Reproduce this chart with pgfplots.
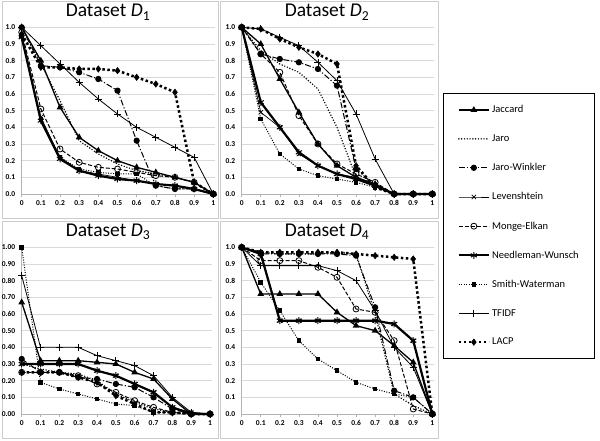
\documentclass[border=0pt]{standalone}
\usepackage{pgfplots}
\pgfplotsset{compat=1.18}
\usepackage{pgfplotstable}
\usepackage{fontspec}
\setmainfont{Carlito}

\pgfplotstableread{
x    jac  jaro jw   lev  me   nw   sw   tf   lacp
0    1.00 1.00 1.00 0.95 0.97 0.94 0.95 1.00 0.96
0.1  0.80 0.78 0.77 0.46 0.51 0.44 0.45 0.89 0.76
0.2  0.52 0.56 0.76 0.22 0.27 0.21 0.22 0.78 0.76
0.3  0.34 0.32 0.73 0.14 0.19 0.14 0.15 0.67 0.75
0.4  0.26 0.24 0.69 0.12 0.16 0.11 0.13 0.57 0.75
0.5  0.20 0.18 0.62 0.10 0.15 0.09 0.12 0.48 0.74
0.6  0.16 0.14 0.32 0.08 0.13 0.08 0.12 0.40 0.70
0.7  0.13 0.12 0.05 0.06 0.11 0.06 0.05 0.34 0.66
0.8  0.10 0.10 0.03 0.05 0.10 0.05 0.03 0.28 0.61
0.9  0.07 0.07 0.03 0.03 0.07 0.03 0.03 0.22 0.07
1    0    0    0    0    0    0    0    0    0
}\dA
\pgfplotstableread{
x    jac  jaro jw   lev  me   nw   sw   tf   lacp
0    1    1    1    1    1    1    1    1    1
0.1  0.90 0.86 0.84 0.49 0.84 0.55 0.45 0.99 0.99
0.2  0.69 0.78 0.81 0.40 0.73 0.40 0.24 0.94 0.93
0.3  0.49 0.73 0.79 0.24 0.47 0.25 0.15 0.89 0.88
0.4  0.30 0.63 0.75 0.17 0.30 0.17 0.11 0.79 0.84
0.5  0.17 0.40 0.65 0.12 0.18 0.12 0.09 0.68 0.78
0.6  0.10 0.10 0.15 0.10 0.12 0.09 0.07 0.48 0.17
0.7  0.06 0.05 0.05 0.05 0.07 0.05 0.04 0.21 0.04
0.8  0    0    0    0    0    0    0    0    0
0.9  0    0    0    0    0    0    0    0    0
1    0    0    0    0    0    0    0    0    0
}\dB
\pgfplotstableread{
x    jac  jaro jw   lev  me   nw   sw   tf   lacp
0    0.67 0.30 0.33 0.30 0.25 0.30 1.00 0.83 0.25
0.1  0.32 0.27 0.25 0.30 0.25 0.30 0.19 0.40 0.25
0.2  0.32 0.25 0.25 0.30 0.25 0.30 0.15 0.40 0.25
0.3  0.32 0.24 0.22 0.30 0.23 0.30 0.12 0.40 0.22
0.4  0.31 0.20 0.21 0.26 0.18 0.26 0.09 0.35 0.19
0.5  0.30 0.12 0.18 0.23 0.13 0.23 0.06 0.32 0.11
0.6  0.25 0.07 0.16 0.18 0.08 0.18 0.05 0.29 0.06
0.7  0.21 0.03 0.10 0.13 0.04 0.13 0.01 0.23 0.01
0.8  0.09 0.01 0.03 0.04 0.01 0.04 0.01 0.10 0.01
0.9  0.00 0.00 0.00 0.01 0.00 0.00 0.00 0.01 0.00
1    0    0    0    0    0    0    0    0    0
}\dC
\pgfplotstableread{
x    jac  jaro jw   lev  me   nw   sw   tf   lacp
0    1    1    1    1    1    1    1    1    1
0.1  0.72 0.97 0.96 0.97 0.92 0.96 0.79 0.89 0.97
0.2  0.72 0.96 0.96 0.56 0.92 0.56 0.62 0.89 0.97
0.3  0.72 0.96 0.96 0.56 0.92 0.56 0.44 0.89 0.97
0.4  0.72 0.96 0.96 0.56 0.88 0.56 0.33 0.89 0.97
0.5  0.61 0.97 0.96 0.56 0.82 0.56 0.26 0.86 0.97
0.6  0.53 0.96 0.95 0.56 0.63 0.56 0.19 0.80 0.96
0.7  0.50 0.60 0.64 0.56 0.61 0.56 0.15 0.62 0.95
0.8  0.41 0.12 0.14 0.54 0.44 0.54 0.12 0.40 0.94
0.9  0.31 0.05 0.10 0.44 0.03 0.44 0.10 0.28 0.93
1    0    0    0    0    0    0    0    0    0
}\dD

\pgfplotsset{
  sjac/.style={black, solid, line width=1.3pt, mark=triangle*, mark size=2.6pt, mark options={solid}},
  sjaro/.style={black, line width=1.6pt, line cap=round, dash pattern=on 0pt off 2.8pt},
  sjw/.style={black, line width=1pt, dash pattern=on 6pt off 2pt on 1.2pt off 2pt, mark=*, mark size=2.6pt, mark options={solid}},
  slev/.style={black, solid, line width=0.7pt, mark=x, mark size=3pt, mark options={solid}},
  sme/.style={black, line width=1pt, dash pattern=on 4pt off 2pt, mark=o, mark size=3pt, mark options={solid, fill=white, line width=0.8pt}},
  snw/.style={black, solid, line width=2.2pt, mark=asterisk, mark size=3.5pt, mark options={solid, line width=1pt}},
  ssw/.style={black, line width=1pt, dash pattern=on 1pt off 1.5pt, mark=square*, mark size=1.8pt, mark options={solid}},
  stf/.style={black, solid, line width=0.8pt, mark=+, mark size=3.5pt, mark options={solid}},
  slacp/.style={black, line width=2.5pt, dash pattern=on 2.5pt off 2.5pt, mark=diamond*, mark size=3.2pt, mark options={solid, line width=0.5pt}},
  panel/.style={
    scale only axis, height=166.7pt, xmin=0, xmax=1.01, ymin=0, ymax=1,
    anchor=south west, clip=false,
    axis x line*=bottom, axis y line*=left,
    axis line style={gray!60, line width=0.6pt},
    ymajorgrids, grid style={gray!30, line width=0.6pt},
    xtick={0,0.1,0.2,0.3,0.4,0.5,0.6,0.7,0.8,0.9,1},
    xticklabels={0,0.1,0.2,0.3,0.4,0.5,0.6,0.7,0.8,0.9,1},
    ytick={0,0.1,0.2,0.3,0.4,0.5,0.6,0.7,0.8,0.9,1},
    yticklabels={0.0,0.1,0.2,0.3,0.4,0.5,0.6,0.7,0.8,0.9,1.0},
    ticklabel style={font=\bfseries\fontsize{7.5}{8}\selectfont},
    tick align=outside, major tick length=3pt,
    xtick style={gray!60, line width=0.6pt}, ytick style={draw=none},
    legend image code/.code={\draw[mark repeat=2,mark phase=2,##1] plot coordinates {(0pt,0pt) (15pt,0pt) (30pt,0pt)};},
  }
}
\newcommand\allplots[1]{%
  \addplot[sjac] table[x=x,y=jac]{#1};
  \addplot[sjaro] table[x=x,y=jaro]{#1};
  \addplot[sjw] table[x=x,y=jw]{#1};
  \addplot[slev] table[x=x,y=lev]{#1};
  \addplot[sme] table[x=x,y=me]{#1};
  \addplot[snw] table[x=x,y=nw]{#1};
  \addplot[ssw] table[x=x,y=sw]{#1};
  \addplot[stf] table[x=x,y=tf]{#1};
  \addplot[slacp] table[x=x,y=lacp]{#1};
}

\begin{document}
\begin{tikzpicture}
\useasboundingbox (0pt,0pt) rectangle (600pt,440pt);
\fill[white] (0pt,0pt) rectangle (600pt,440pt);
% panel frames
\draw[gray!40, line width=0.8pt] (2.5pt,439pt) rectangle (218pt,222pt);
\draw[gray!40, line width=0.8pt] (220pt,439pt) rectangle (438pt,222pt);
\draw[gray!40, line width=0.8pt] (2.5pt,219pt) rectangle (218pt,2pt);
\draw[gray!40, line width=0.8pt] (220pt,219pt) rectangle (438pt,2pt);

% D1
\begin{axis}[panel, at={(21.7pt,246pt)}, width=193.5pt]
\allplots{\dA}
\end{axis}
% D2
\begin{axis}[panel, at={(241.7pt,246pt)}, width=192.5pt,
  legend entries={Jaccard,Jaro,Jaro-Winkler,Levenshtein,Monge-Elkan,Needleman-Wunsch,Smith-Waterman,TFIDF,LACP},
  legend cell align=left,
  legend style={at={(1.0457,0.606)}, anchor=north west, draw=black, line width=1.2pt,
    font=\fontsize{10.5}{12}\selectfont, inner xsep=14pt, inner ysep=10pt, row sep=16.4pt}]
\allplots{\dB}
\end{axis}
% D3
\begin{axis}[panel, at={(21.7pt,26pt)}, width=190.2pt,
  yticklabels={0.00,0.10,0.20,0.30,0.40,0.50,0.60,0.70,0.80,0.90,1.00}]
\allplots{\dC}
\end{axis}
% D4
\begin{axis}[panel, at={(241.7pt,26pt)}, width=192.5pt]
\allplots{\dD}
\end{axis}

\node[font=\fontsize{19.5}{22}\selectfont, anchor=base] at (108pt,423pt) {Dataset \textit{D}\textsubscript{1}};
\node[font=\fontsize{19.5}{22}\selectfont, anchor=base] at (327pt,423pt) {Dataset \textit{D}\textsubscript{2}};
\node[font=\fontsize{19.5}{22}\selectfont, anchor=base] at (108pt,203.3pt) {Dataset \textit{D}\textsubscript{3}};
\node[font=\fontsize{19.5}{22}\selectfont, anchor=base] at (327pt,203.3pt) {Dataset \textit{D}\textsubscript{4}};
\end{tikzpicture}
\end{document}
